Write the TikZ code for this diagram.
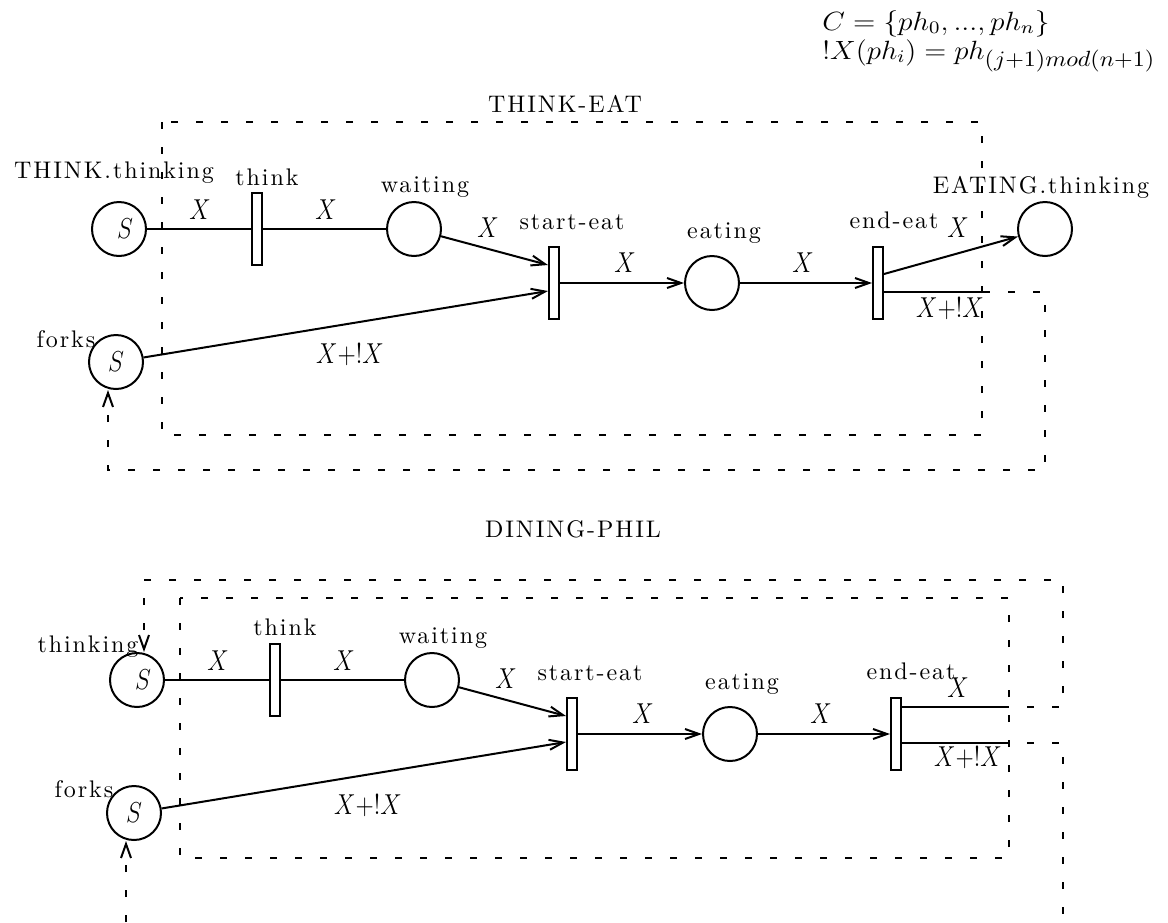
\documentclass[tikz,border=0pt]{standalone}
\usepackage{fontspec}
\usepackage{graphicx}
\usetikzlibrary{arrows.meta,calc}
\newfontfamily\lsp{lmroman10-regular.otf}[LetterSpace=8]
\newcommand\mlab[1]{\scalebox{1}[1.2]{\fontsize{12}{14}\selectfont$#1$}}
\begin{document}
\begin{tikzpicture}[x=0.5pt,y=-0.5pt,
  place/.style={circle,draw,line width=1pt,minimum size=27pt,inner sep=0pt},
  trans/.style={rectangle,draw,line width=1pt,minimum width=5pt,minimum height=36pt,inner sep=0pt},
  arc/.style={line width=1pt},
  tip/.style={-{Straight Barb[length=7pt,width=5pt,line width=1pt]}},
  arcto/.style={arc,tip},
  fus/.style={line width=1pt,dash pattern=on 3.5pt off 9pt},
  lbl/.style={inner sep=0pt,anchor=base,font=\lsp\fontsize{12}{14}\selectfont},
  mlb/.style={inner sep=0pt}]
\useasboundingbox (0,0) rectangle (1168,922);

% formula
\node[anchor=base west,inner sep=0pt] (f1) at (822,30) {\scalebox{1.22}[1.1]{\fontsize{12}{14}\selectfont$C=\{ph_0,...,ph_n\}$}};
\node[anchor=base west,inner sep=0pt] (f2) at (822,59) {\scalebox{1.2}[1.1]{\fontsize{12}{14}\selectfont$!X(ph_i)=ph_{\mbox{\fontsize{10}{11}\selectfont$(j{+}1)mod(n{+}1)$}}$}};

% ================= THINK-EAT =================
\node[lbl] (lte) at (565,112) {THINK-EAT};
\draw[fus] (162,122) rectangle (982,435);

\node[place] (tt) at (119,229) {};
\node[trans] (tk) at (257,229) {};
\node[place] (tw) at (414,229) {};
\node[trans] (tse) at (554,283) {};
\node[place] (te) at (712,283) {};
\node[trans] (tee) at (878,283) {};
\node[place] (tet) at (1045,229) {};
\node[place] (tf) at (116,362) {};

\node[mlb] (tts) at (125,229) {\mlab{S}};
\node[mlb] (tfs) at (116,362) {\mlab{S}};

\node[lbl] (ltt) at (114,178) {THINK.thinking};
\node[lbl] (ltk) at (267,185) {think};
\node[lbl] (ltw) at (425,192) {waiting};
\node[lbl] (ltse) at (572,229) {start-eat};
\node[lbl] (lte2) at (724,238) {eating};
\node[lbl] (ltee) at (894,228) {end-eat};
\node[lbl] (ltet) at (1041,193) {EATING.thinking};
\node[lbl] (ltf) at (66,347) {forks};

\draw[arc] (tt) -- (tk);
\draw[arc] (tk) -- (tw);
\draw[arcto] (tw) -- ($(tse.west)+(0,-18)$);
\draw[arcto] (tf) -- ($(tse.west)+(0,8)$);
\draw[arcto] (tse) -- (te);
\draw[arcto] (te) -- (tee);
\draw[arcto] ($(tee.east)+(0,-9)$) -- (tet);
\coordinate (tc1) at (983,292);
\coordinate (tc2) at (1045,292);
\coordinate (tc3) at (1045,470);
\coordinate (tc4) at (108,470);
\draw[arc] (tee.east |- tc1) -- (tc1);
\draw[fus,tip] (tc1) -- (tc2) -- (tc3) -- (tc4) -- (tc4 |- tf.south);

\node[mlb] (tx1) at (200,210) {\mlab{X}};
\node[mlb] (tx2) at (326,210) {\mlab{X}};
\node[mlb] (tx3) at (488,228) {\mlab{X}};
\node[mlb] (tx4) at (625,263) {\mlab{X}};
\node[mlb] (tx5) at (803,263) {\mlab{X}};
\node[mlb] (tx6) at (958,228) {\mlab{X}};
\node[mlb] (tx7) at (950,309) {\mlab{X+!X}};
\node[mlb] (tx8) at (350,355) {\mlab{X+!X}};

% ================= DINING-PHIL =================
\node[lbl] (ldp) at (573,537) {DINING-PHIL};
\draw[fus] (180,598) rectangle (1009,858);

\node[place] (bt) at (137,680) {};
\node[trans] (bk) at (275,680) {};
\node[place] (bw) at (432,680) {};
\node[trans] (bse) at (572,734) {};
\node[place] (be) at (730,734) {};
\node[trans] (bee) at (896,734) {};
\node[place] (bf) at (134,813) {};

\node[mlb] (bts) at (143,680) {\mlab{S}};
\node[mlb] (bfs) at (134,813) {\mlab{S}};

\node[lbl] (lbt) at (88,652) {thinking};
\node[lbl] (lbk) at (285,635) {think};
\node[lbl] (lbw) at (443,643) {waiting};
\node[lbl] (lbse) at (590,680) {start-eat};
\node[lbl] (lbe) at (742,689) {eating};
\node[lbl] (lbee) at (911,679) {end-eat};
\node[lbl] (lbf) at (84,797) {forks};

\draw[arc] (bt) -- (bk);
\draw[arc] (bk) -- (bw);
\draw[arcto] (bw) -- ($(bse.west)+(0,-18)$);
\draw[arcto] (bf) -- ($(bse.west)+(0,8)$);
\draw[arcto] (bse) -- (be);
\draw[arcto] (be) -- (bee);
\coordinate (bc1) at (1002,707);
\coordinate (bc2) at (1063,707);
\coordinate (bc3) at (1063,580);
\coordinate (bc4) at (144,580);
\draw[arc] (bee.east |- bc1) -- (bc1);
\draw[fus,tip] (bc1) -- (bc2) -- (bc3) -- (bc4) -- (bc4 |- bt.north);
\coordinate (bd1) at (1002,743);
\coordinate (bd2) at (1063,743);
\coordinate (bd3) at (1063,922);
\draw[arc] (bee.east |- bd1) -- (bd1);
\draw[fus] (bd1) -- (bd2) -- (bd3);
\coordinate (bd4) at (126,922);
\draw[fus,tip] (bd4) -- (bd4 |- bf.south);

\node[mlb] (bx1) at (218,661) {\mlab{X}};
\node[mlb] (bx2) at (344,661) {\mlab{X}};
\node[mlb] (bx3) at (506,679) {\mlab{X}};
\node[mlb] (bx4) at (643,714) {\mlab{X}};
\node[mlb] (bx5) at (821,714) {\mlab{X}};
\node[mlb] (bx6) at (958,688) {\mlab{X}};
\node[mlb] (bx7) at (968,758) {\mlab{X+!X}};
\node[mlb] (bx8) at (368,806) {\mlab{X+!X}};
\end{tikzpicture}
\end{document}
